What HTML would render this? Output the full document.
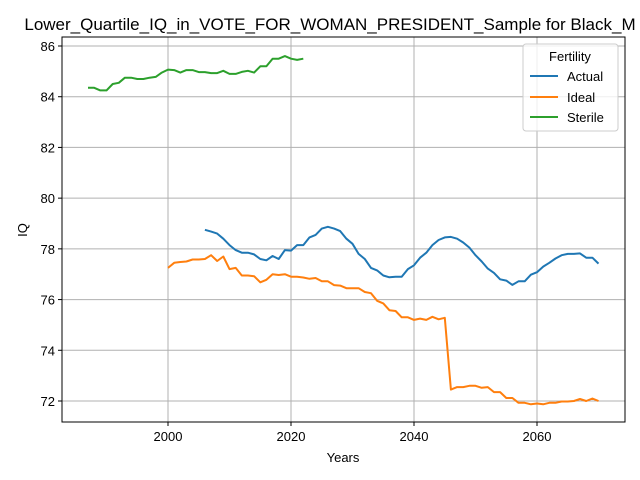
<!DOCTYPE html>
<html><head><meta charset="utf-8"><style>
body{margin:0;background:#fff;}
svg{display:block;font-family:"Liberation Sans","DejaVu Sans",sans-serif;}
</style></head><body>
<svg id="chart" width="640" height="480" viewBox="0 0 640 480">
<text x="330" y="30" font-size="17" text-anchor="middle">Lower_Quartile_IQ_in_VOTE_FOR_WOMAN_PRESIDENT_Sample for Black_M</text>
<g id="grid"></g><g id="ticks"></g><g id="series"></g>
<rect x="62" y="37" width="563" height="385" fill="none" stroke="#000" stroke-width="1"/>
<text x="343" y="462" font-size="13" text-anchor="middle">Years</text>
<text x="27" y="230" font-size="13" text-anchor="middle" transform="rotate(-90 27 230)">IQ</text>
<g>
<rect x="523" y="44" width="95" height="87" rx="3" fill="#fff" fill-opacity="0.8" stroke="#ccc"/>
<text x="570" y="61" font-size="13" text-anchor="middle">Fertility</text>
<g><line x1="530" y1="76" x2="558" y2="76" stroke="#1f77b4" stroke-width="2"/><text x="567" y="81" font-size="13">Actual</text></g>
<g><line x1="530" y1="97" x2="558" y2="97" stroke="#ff7f0e" stroke-width="2"/><text x="567" y="102" font-size="13">Ideal</text></g>
<g><line x1="530" y1="117" x2="558" y2="117" stroke="#2ca02c" stroke-width="2"/><text x="567" y="122" font-size="13">Sterile</text></g>
</g>
</svg>
<script>
const xTicks=[2000,2020,2040,2060];
const yTicks=[72,74,76,78,80,82,84,86];
const sterileStart=1987;
const sterileVals=[84.35,84.35,84.25,84.25,84.5,84.55,84.75,84.75,84.7,84.7,84.75,84.78,84.95,85.07,85.05,84.95,85.05,85.05,84.97,84.97,84.93,84.93,85.02,84.9,84.9,84.98,85.02,84.95,85.2,85.2,85.5,85.5,85.6,85.5,85.45,85.5];
const actualStart=2006;
const actualVals=[78.75,78.68,78.6,78.4,78.15,77.95,77.85,77.85,77.78,77.6,77.55,77.72,77.6,77.95,77.93,78.15,78.15,78.45,78.55,78.8,78.87,78.8,78.7,78.4,78.2,77.8,77.6,77.25,77.15,76.95,76.88,76.9,76.9,77.2,77.35,77.65,77.85,78.15,78.35,78.45,78.47,78.4,78.25,78.05,77.75,77.5,77.22,77.05,76.8,76.75,76.58,76.72,76.72,76.98,77.08,77.3,77.45,77.62,77.75,77.8,77.8,77.82,77.65,77.65,77.42];
const idealStart=2000;
const idealVals=[77.25,77.45,77.48,77.5,77.58,77.58,77.6,77.75,77.52,77.7,77.2,77.25,76.95,76.95,76.92,76.68,76.78,77.0,76.97,77.0,76.9,76.9,76.87,76.82,76.85,76.72,76.72,76.57,76.55,76.45,76.45,76.45,76.3,76.25,75.95,75.85,75.58,75.55,75.3,75.3,75.2,75.25,75.2,75.32,75.22,75.28,72.45,72.55,72.55,72.6,72.6,72.52,72.55,72.35,72.35,72.12,72.12,71.93,71.93,71.87,71.9,71.87,71.93,71.93,71.98,71.98,72.0,72.08,72.0,72.1,72.0];
const NS="http://www.w3.org/2000/svg";
const X=y=>168+(y-2000)*6.15;
const Y=v=>46+(86-v)*25.357;
function mk(tag,attrs,parent){const e=document.createElementNS(NS,tag);for(const k in attrs)e.setAttribute(k,attrs[k]);parent.appendChild(e);return e;}
const grid=document.getElementById('grid'),ticks=document.getElementById('ticks'),ser=document.getElementById('series');
xTicks.forEach(t=>{const x=X(t);
const g=mk('line',{x1:x,x2:x,y1:37,y2:422,stroke:'#b0b0b0','stroke-width':1},grid);


mk('line',{x1:x,x2:x,y1:422,y2:426,stroke:'#000'},ticks);
const tx=mk('text',{x:x,y:441,'font-size':13,'text-anchor':'middle'},ticks);tx.textContent=t;

});
yTicks.forEach(t=>{const y=Y(t);
const g=mk('line',{x1:62,x2:625,y1:y,y2:y,stroke:'#b0b0b0','stroke-width':1},grid);


mk('line',{x1:58,x2:62,y1:y,y2:y,stroke:'#000'},ticks);
const tx=mk('text',{x:55,y:y+5,'font-size':13,'text-anchor':'end'},ticks);tx.textContent=t;

});
function line(start,vals,color,name){
const d=vals.map((v,i)=>(i?'L':'M')+X(start+i).toFixed(1)+','+Y(v).toFixed(1)).join(' ');
const p=mk('path',{d:d,fill:'none',stroke:color,'stroke-width':2,'stroke-linejoin':'round'},ser);

}
line(actualStart,actualVals,'#1f77b4','actual-line');
line(idealStart,idealVals,'#ff7f0e','ideal-line');
line(sterileStart,sterileVals,'#2ca02c','sterile-line');
</script>
</body></html>
